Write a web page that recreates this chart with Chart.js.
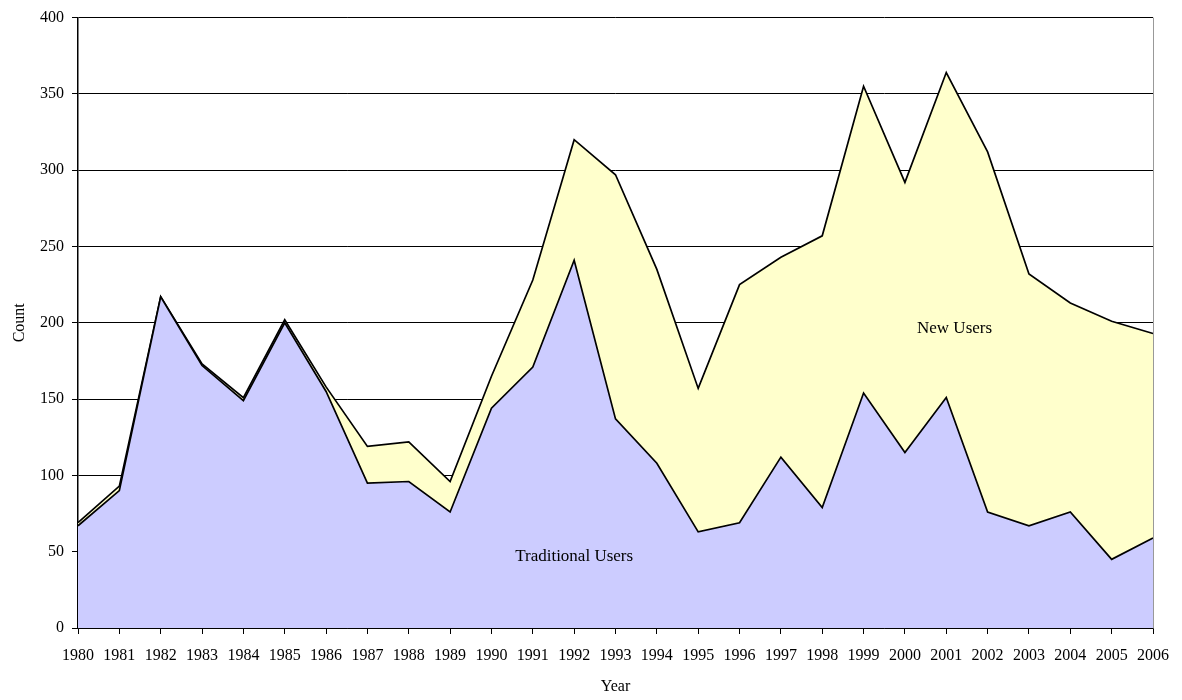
<!DOCTYPE html>
<html>
<head>
<meta charset="utf-8">
<script src="https://cdn.jsdelivr.net/npm/chart.js@4/dist/chart.umd.min.js"></script>
<style>
  body { margin: 0; background: #fff; }
  #chart { display: block; }
</style>
</head>
<body>
<canvas id="chart" width="1182" height="700"></canvas>
<script>
// DATA
const years = ['1980','1981','1982','1983','1984','1985','1986','1987','1988','1989',
  '1990','1991','1992','1993','1994','1995','1996','1997','1998','1999',
  '2000','2001','2002','2003','2004','2005','2006'];
const traditionalUsers = [67, 90, 217, 172, 149, 200, 155, 95, 96, 76,
  144, 171, 241, 137, 108, 63, 69, 112, 79, 154,
  115, 151, 76, 67, 76, 45, 59];
const newUsers = [2, 3, 0, 1, 2, 2, 3, 24, 26, 20,
  21, 57, 79, 160, 127, 94, 156, 131, 178, 201,
  177, 213, 236, 165, 137, 156, 134];
const yTicks = [0, 50, 100, 150, 200, 250, 300, 350, 400];

// area labels, placed in data coordinates
const areaLabels = [
  { text: 'Traditional Users', x: 12, y: 47 },
  { text: 'New Users', x: 21.2, y: 196 }
];

const FONT = 'Liberation Serif, Times New Roman, serif';

const labelPlugin = {
  id: 'areaLabels',
  afterDatasetsDraw(chart) {
    const ctx = chart.ctx;
    const xs = chart.scales.x, ys = chart.scales.y;
    ctx.save();
    ctx.font = '17px ' + FONT;
    ctx.fillStyle = '#000';
    ctx.textAlign = 'center';
    ctx.textBaseline = 'middle';
    areaLabels.forEach(l => {
      ctx.fillText(l.text, xs.getPixelForValue(l.x), ys.getPixelForValue(l.y));
    });
    // right border of plot
    const a = chart.chartArea;
    ctx.strokeStyle = '#999';
    ctx.lineWidth = 1;
    ctx.beginPath();
    ctx.moveTo(a.right + 0.5, a.top);
    ctx.lineTo(a.right + 0.5, a.bottom);
    ctx.stroke();
    ctx.restore();
  }
};

let ctx = document.getElementById('chart').getContext('2d');
let myChart = new Chart(ctx, {
  type: 'line',
  data: {
    labels: years,
    datasets: [
      {
        label: 'Traditional Users',
        data: traditionalUsers,
        backgroundColor: '#ccccff',
        borderColor: '#000',
        borderWidth: 1.7,
        fill: 'origin',
        pointRadius: 0,
        tension: 0
      },
      {
        label: 'New Users',
        data: newUsers,
        backgroundColor: '#ffffcc',
        borderColor: '#000',
        borderWidth: 1.7,
        fill: '-1',
        pointRadius: 0,
        tension: 0
      }
    ]
  },
  options: {
    responsive: false,
    animation: false,
    layout: { padding: { left: 0, right: 29, top: 17, bottom: 4 } },
    plugins: {
      legend: { display: false },
      tooltip: { enabled: false }
    },
    scales: {
      x: {
        offset: false,
        grid: { drawOnChartArea: false, drawTicks: true, tickLength: 6, color: '#000' },
        border: { color: '#000', width: 1.5 },
        ticks: { color: '#000', font: { family: FONT, size: 16 }, maxRotation: 0, autoSkip: false, padding: 12 },
        title: { display: true, text: 'Year', color: '#000', font: { family: FONT, size: 16 }, padding: { top: 6, bottom: 0 } },
        afterFit: s => { s.height = 68; }
      },
      y: {
        stacked: true,
        min: 0,
        max: 400,
        afterBuildTicks: s => { s.ticks = yTicks.map(v => ({ value: v })); },
        grid: { color: '#000', lineWidth: 1, tickLength: 6 },
        border: { color: '#000', width: 1.5 },
        ticks: { color: '#000', font: { family: FONT, size: 16 }, padding: 8 },
        title: { display: true, text: 'Count', color: '#000', font: { family: FONT, size: 16 }, padding: { top: 10, bottom: 0 } },
        afterFit: s => { s.width = 78; }
      }
    }
  },
  plugins: [labelPlugin]
});
</script>
</body>
</html>
